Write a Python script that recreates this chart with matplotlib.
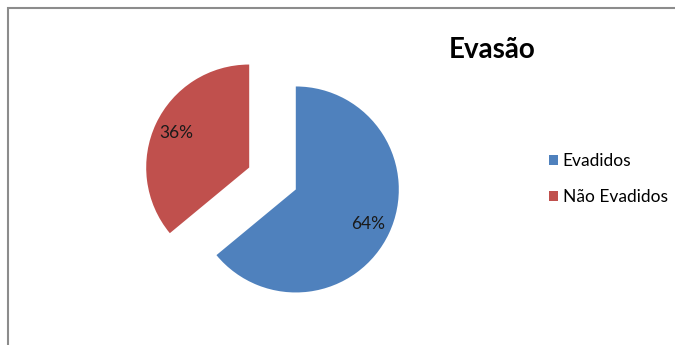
import matplotlib
matplotlib.use("Agg")
import matplotlib.pyplot as plt
from matplotlib.patches import Patch, Rectangle

labels = ["Evadidos", "Não Evadidos"]
values = [64, 36]
colors = ["#4F81BD", "#C0504D"]
title = "Evasão"

plt.rcParams["font.family"] = ["Lato", "DejaVu Sans"]

fig = plt.figure(figsize=(6.75, 3.45), dpi=100)

# outer chart frame
fig.patches.append(
    Rectangle((8 / 675, -0.05), 1.2, 1 - 8 / 345 + 0.05, transform=fig.transFigure,
              fill=False, edgecolor="#8c8c8c", linewidth=1.5)
)

# square axes so the pie radius is ~103 px
ax = fig.add_axes([122.5 / 675, 16.5 / 345, 300 / 675, 300 / 345])
wedges, texts, autotexts = ax.pie(
    values,
    colors=colors,
    startangle=90,
    counterclock=False,
    explode=(0.25, 0.25),
    autopct="%.0f%%",
    pctdistance=0.78,
    textprops={"fontsize": 12.5, "color": "#1a1a1a"},
)
lim = 150 / 103
ax.set_xlim(-lim, lim)
ax.set_ylim(-lim, lim)
ax.set_aspect("equal")
ax.axis("off")

fig.text(492 / 675, 1 - 50 / 345, title, ha="center", va="center",
         fontsize=20, fontweight="bold", color="black")

handles = [Patch(facecolor=c, edgecolor="none") for c in colors]
fig.legend(handles, labels, loc="center left", bbox_to_anchor=(542 / 675, 1 - 179 / 345),
           frameon=False, fontsize=12.5, handlelength=0.5, handleheight=0.5,
           handletextpad=0.3, labelspacing=1.12, borderaxespad=0)

fig.savefig("out.png", dpi=100)
